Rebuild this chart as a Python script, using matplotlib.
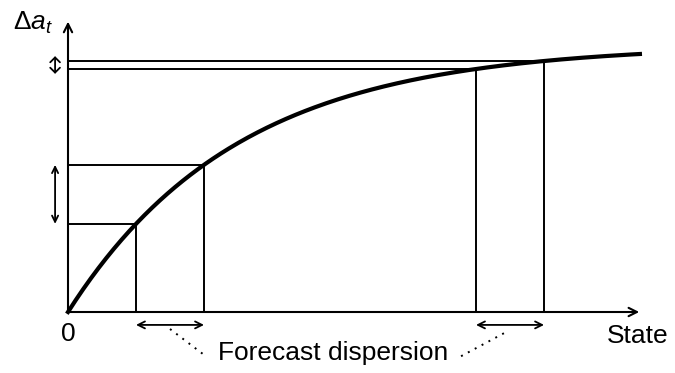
import numpy as np
import matplotlib
matplotlib.use('Agg')
import matplotlib.pyplot as plt

plt.rcParams['font.family'] = ['Liberation Sans', 'DejaVu Sans']
plt.rcParams['mathtext.fontset'] = 'custom'
plt.rcParams['mathtext.rm'] = 'Liberation Sans'
plt.rcParams['mathtext.it'] = 'Liberation Sans:italic'

# concave response curve: da = A * (1 - exp(-k * state))
A = 3.93
k = 0.40
x_end = 8.41

# forecast states (low / high) for the two cases
state_lo = [1, 6]
state_hi = [2, 7]

x_label = 'State'
y_label = 'Δ$a_t$'
note = 'Forecast dispersion'


def f(s):
    return A * (1 - np.exp(-k * np.asarray(s)))


fig = plt.figure(figsize=(6.75, 3.73), dpi=100)
ax = fig.add_axes([0, 0, 1, 1])
ax.set_xlim(-1, 8.926)
ax.set_ylim(-0.897, 4.588)
ax.axis('off')

# axes with arrows
ax.annotate('', xy=(8.40, 0), xytext=(0, 0),
            arrowprops=dict(arrowstyle='->,head_length=0.6,head_width=0.3', lw=1.5, color='black',
                            shrinkA=0, shrinkB=0))
ax.annotate('', xy=(0, 4.27), xytext=(0, 0),
            arrowprops=dict(arrowstyle='->,head_length=0.6,head_width=0.3', lw=1.5, color='black',
                            shrinkA=0, shrinkB=0))

# guide lines
for s in state_lo + state_hi:
    ax.plot([s, s], [0, f(s)], color='black', lw=1.4, solid_capstyle='butt')
    ax.plot([0, s], [f(s), f(s)], color='black', lw=1.4, solid_capstyle='butt')

# curve
xs = np.linspace(0, x_end, 300)
ax.plot(xs, f(xs), color='black', lw=3)

# dispersion arrows below x axis
yb = -0.19
for lo, hi in zip(state_lo, state_hi):
    ax.annotate('', xy=(hi, yb), xytext=(lo, yb),
                arrowprops=dict(arrowstyle='<->,head_length=0.5,head_width=0.25', lw=1.3,
                                color='black', shrinkA=0, shrinkB=0))

# spread arrows on the y axis
xa = -0.19
for lo, hi in zip(state_lo, state_hi):
    y0, y1 = float(f(lo)), float(f(hi))
    if y1 - y0 < 0.3:
        # small spread: compact double arrow
        mid = (y0 + y1) / 2
        ax.annotate('', xy=(xa, mid + 0.13), xytext=(xa, mid - 0.13),
                    arrowprops=dict(arrowstyle='<->,head_length=0.35,head_width=0.35', lw=1.3,
                                    color='black', shrinkA=0, shrinkB=0))
    else:
        ax.annotate('', xy=(xa, y1), xytext=(xa, y0),
                    arrowprops=dict(arrowstyle='<->,head_length=0.45,head_width=0.22', lw=1.3,
                                    color='black', shrinkA=0, shrinkB=0))

# texts
ax.text(-0.52, 4.25, y_label, fontsize=19, ha='center', va='center')
ax.text(0, -0.33, '0', fontsize=19, ha='center', va='center')
ax.text(8.37, -0.45, x_label, fontsize=19, ha='center', va='baseline')
ax.text(3.90, -0.71, note, fontsize=19, ha='center', va='baseline')

# dotted leaders to the note
ax.plot([1.5, 2.04], [-0.25, -0.66], color='black', lw=1.4, ls=(0, (1, 3)))
ax.plot([5.78, 6.47], [-0.65, -0.28], color='black', lw=1.4, ls=(0, (1, 3)))

fig.savefig('out.png', dpi=100)
